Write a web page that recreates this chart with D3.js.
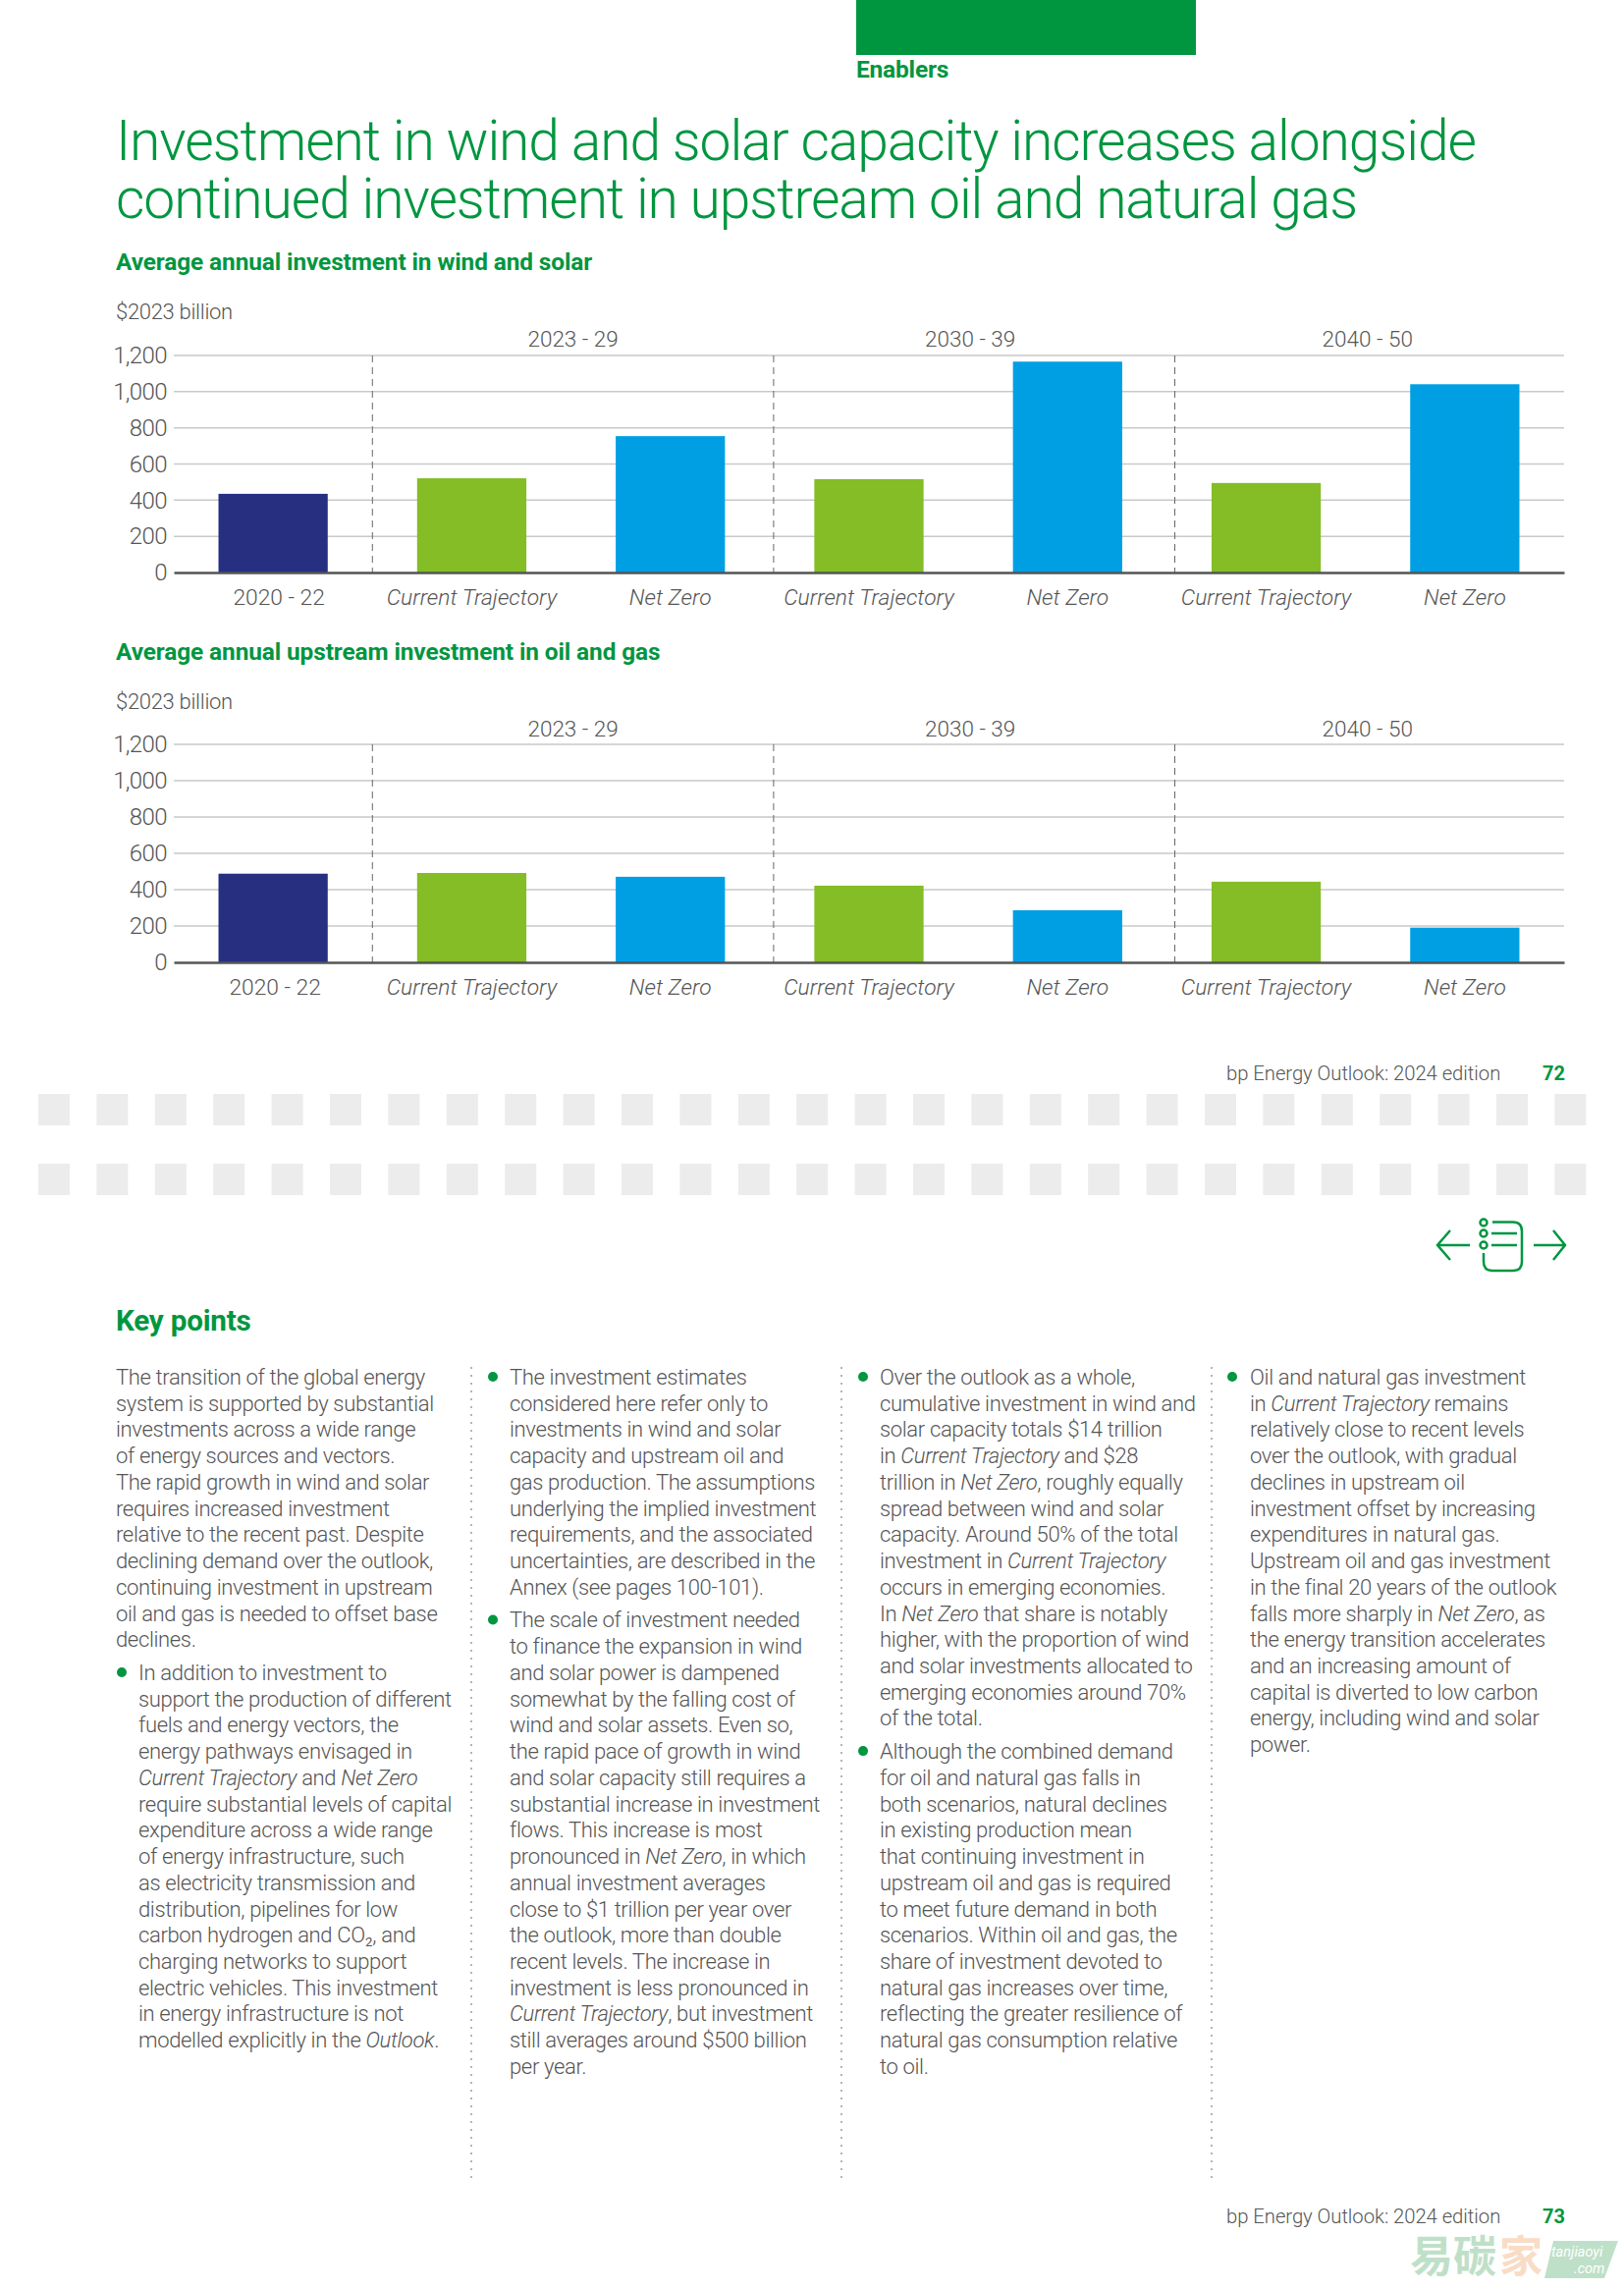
<!DOCTYPE html>
<html><head><meta charset="utf-8"><script src="https://cdn.jsdelivr.net/npm/d3@7"></script>
<style>html,body{margin:0;padding:0;background:#fff}svg{display:block}text{font-family:Roboto,sans-serif}</style></head>
<body><svg id="page" width="1654" height="2331"></svg>
<script>
const categories=["2020 - 22","Current Trajectory","Net Zero","Current Trajectory","Net Zero","Current Trajectory","Net Zero"];
const barKinds=["past","ct","nz","ct","nz","ct","nz"];
const windSolar=[435,521,754,516,1166,495,1041];
const upstream=[488,492,471,422,287,444,191];
const yTicks=[0,200,400,600,800,1000,1200];
const groupLabels=["2023 - 29","2030 - 39","2040 - 50"];
const groupCentres=[2,4,6];
const dividerAt=[1,3.02,5.04];
const titleLines=["Investment in wind and solar capacity increases alongside","continued investment in upstream oil and natural gas"];
const col1=[
{b:0,l:["The transition of the global energy","system is supported by substantial","investments across a wide range","of energy sources and vectors.","The rapid growth in wind and solar","requires increased investment","relative to the recent past. Despite","declining demand over the outlook,","continuing investment in upstream","oil and gas is needed to offset base","declines."]},
{b:1,l:["In addition to investment to","support the production of different","fuels and energy vectors, the","energy pathways envisaged in","*Current Trajectory* and *Net Zero*","require substantial levels of capital","expenditure across a wide range","of energy infrastructure, such","as electricity transmission and","distribution, pipelines for low","carbon hydrogen and CO₂, and","charging networks to support","electric vehicles. This investment","in energy infrastructure is not","modelled explicitly in the *Outlook*."]}];
const col2=[
{b:1,l:["The investment estimates","considered here refer only to","investments in wind and solar","capacity and upstream oil and","gas production. The assumptions","underlying the implied investment","requirements, and the associated","uncertainties, are described in the","Annex (see pages 100-101)."]},
{b:1,l:["The scale of investment needed","to finance the expansion in wind","and solar power is dampened","somewhat by the falling cost of","wind and solar assets. Even so,","the rapid pace of growth in wind","and solar capacity still requires a","substantial increase in investment","flows. This increase is most","pronounced in *Net Zero*, in which","annual investment averages","close to $1 trillion per year over","the outlook, more than double","recent levels. The increase in","investment is less pronounced in","*Current Trajectory*, but investment","still averages around $500 billion","per year."]}];
const col3=[
{b:1,l:["Over the outlook as a whole,","cumulative investment in wind and","solar capacity totals $14 trillion","in *Current Trajectory* and $28","trillion in *Net Zero*, roughly equally","spread between wind and solar","capacity. Around 50% of the total","investment in *Current Trajectory*","occurs in emerging economies.","In *Net Zero* that share is notably","higher, with the proportion of wind","and solar investments allocated to","emerging economies around 70%","of the total."]},
{b:1,l:["Although the combined demand","for oil and natural gas falls in","both scenarios, natural declines","in existing production mean","that continuing investment in","upstream oil and gas is required","to meet future demand in both","scenarios. Within oil and gas, the","share of investment devoted to","natural gas increases over time,","reflecting the greater resilience of","natural gas consumption relative","to oil."]}];
const col4=[
{b:1,l:["Oil and natural gas investment","in *Current Trajectory* remains","relatively close to recent levels","over the outlook, with gradual","declines in upstream oil","investment offset by increasing","expenditures in natural gas.","Upstream oil and gas investment","in the final 20 years of the outlook","falls more sharply in *Net Zero*, as","the energy transition accelerates","and an increasing amount of","capital is diverted to low carbon","energy, including wind and solar","power."]}];

const GREEN="#009640",TXT="#555";
const svg=d3.select("#page");
const kindColor=d3.scaleOrdinal().domain(["past","ct","nz"]).range(["#262f80","#84bd26","#009fe3"]);
const t=(x,y,s,size,o={})=>svg.append("text").attr("x",x).attr("y",y).text(s).attr("font-size",size)
  .attr("font-weight",o.w||300).attr("fill",o.c||TXT).attr("text-anchor",o.a||"start").attr("letter-spacing",o.ls||0);

svg.append("rect").attr("x",872).attr("y",0).attr("width",346).attr("height",56).attr("fill",GREEN);
t(872,79,"Enablers",24.5,{w:700,c:GREEN,ls:-0.2});
titleLines.forEach((s,i)=>t(118,163+i*58.5,s,57,{c:GREEN,ls:-1.1}));

function chart(o){
  const idx=d3.range(o.values.length);
  const x=d3.scaleBand().domain(idx).range([177,1593]).paddingInner(0.45).paddingOuter(0.225);
  const u=d3.scaleLinear().domain([0,7]).range([177,1593]);
  const y=d3.scaleLinear().domain([0,1200]).range([o.y0,o.y1]);
  t(118,o.headY,o.head,24.4,{w:700,c:GREEN,ls:-0.1});
  t(118,o.unitY,"$2023 billion",22,{ls:-0.3});
  const g=svg.append("g");
  const ya=g.append("g").attr("transform","translate(177,0)")
    .call(d3.axisLeft(y).tickValues(yTicks).tickSize(0).tickPadding(7).tickFormat(d3.format(",")));
  ya.select(".domain").remove();
  ya.selectAll("text").attr("font-size",24).attr("font-weight",300).attr("fill",TXT).attr("font-family","Roboto,sans-serif").attr("letter-spacing",-0.6);
  g.append("g").selectAll("line").data(yTicks.filter(d=>d>0)).join("line")
    .attr("x1",177).attr("x2",1593).attr("y1",d=>y(d)).attr("y2",d=>y(d)).attr("stroke","#c9c9c9").attr("stroke-width",1.5);
  g.append("g").selectAll("line").data(dividerAt).join("line")
    .attr("x1",d=>u(d)).attr("x2",d=>u(d)).attr("y1",o.y1).attr("y2",o.y0).attr("stroke","#666").attr("stroke-width",1).attr("stroke-dasharray","7 5");
  g.append("g").selectAll("rect").data(o.values).join("rect")
    .attr("x",(d,i)=>x(i)).attr("width",x.bandwidth()).attr("y",d=>y(d)).attr("height",d=>o.y0-y(d)).attr("fill",(d,i)=>kindColor(barKinds[i]));
  const xa=g.append("g").attr("transform",`translate(0,${o.y0})`)
    .call(d3.axisBottom(x).tickSize(0).tickPadding(15).tickFormat(i=>categories[i]));
  xa.select(".domain").attr("stroke","#555").attr("stroke-width",2.5);
  xa.selectAll("text").attr("font-size",22.8).attr("font-weight",300).attr("fill",TXT).attr("font-family","Roboto,sans-serif")
    .attr("font-style",(i)=>i===0?"normal":"italic").attr("y",o.labelY-o.y0).attr("dy",0)
    .attr("dx",i=>i===0?o.firstDx:0);
  g.append("g").selectAll("text").data(groupLabels).join("text")
    .attr("x",(d,i)=>u(groupCentres[i])+2).attr("y",o.groupY).attr("text-anchor","middle").attr("font-size",22.5).attr("font-weight",300).attr("fill",TXT).text(d=>d);
}
chart({values:windSolar,y0:583,y1:362,head:"Average annual investment in wind and solar",headY:275,unitY:325,groupY:353,labelY:616,firstDx:6});
chart({values:upstream,y0:980,y1:758,head:"Average annual upstream investment in oil and gas",headY:672,unitY:722,groupY:750,labelY:1013,firstDx:2});

t(1249,1100,"bp Energy Outlook: 2024 edition",20.3,{ls:-0.05});
t(1594,1100,"72",20,{w:700,c:GREEN,a:"end"});
t(1249,2264,"bp Energy Outlook: 2024 edition",20.3,{ls:-0.05});
t(1594,2264,"73",20,{w:700,c:GREEN,a:"end"});

[1114,1185].forEach(yy=>svg.append("g").selectAll("rect").data(d3.range(27)).join("rect")
  .attr("x",i=>39+i*59.4).attr("y",yy).attr("width",32).attr("height",32).attr("fill","#ececec"));

const ic=svg.append("g").attr("fill","none").attr("stroke",GREEN).attr("stroke-width",2.5);
["M1497 1268H1464M1477 1253L1464 1268L1477 1283","M1562 1268H1594M1582 1253L1594 1268L1582 1283",
 "M1520 1244.5H1541Q1550 1244.5 1550 1254V1285Q1550 1294 1541 1294H1520Q1511 1294 1511 1285V1276",
 "M1519 1256H1545M1519 1268H1545"].forEach(d=>ic.append("path").attr("d",d));
[1245,1256,1268].forEach(cy=>ic.append("circle").attr("cx",1511).attr("cy",cy).attr("r",3.5));

t(118,1355,"Key points",29.6,{w:700,c:GREEN,ls:-0.2});
const BODY=22,LS=-0.35,LH=26.73,GAP=6.9;
function rich(x,y,s){
  const el=svg.append("text").attr("x",x).attr("y",y).attr("font-size",BODY).attr("font-weight",300).attr("fill",TXT).attr("letter-spacing",LS);
  s.split("*").forEach((p,i)=>{if(p)el.append("tspan").attr("font-style",i%2?"italic":"normal").text(p);});
}
function column(paras,xText,xBullet){
  let y=1410;
  paras.forEach(p=>{
    if(p.b)svg.append("circle").attr("cx",xBullet).attr("cy",y-8).attr("r",5).attr("fill",GREEN);
    const x=p.b?xText:xBullet-6;
    p.l.forEach(s=>{rich(x,y,s);y+=LH;});
    y+=GAP;
  });
}
column(col1,141,124);
column(col2,519,502);
column(col3,896,879);
column(col4,1273,1255);
[480,857,1234].forEach(x=>svg.append("line").attr("x1",x).attr("x2",x).attr("y1",1392).attr("y2",2218)
  .attr("stroke","#b5b5b5").attr("stroke-width",2).attr("stroke-dasharray","2 6"));

const wm=svg.append("g");
wm.append("text").attr("x",1436).attr("y",2314).attr("font-size",44).attr("font-weight",700).style("font-family","'Noto Sans CJK SC'").attr("fill","#bfe0c8").text("易碳");
wm.append("text").attr("x",1527).attr("y",2314).attr("font-size",44).attr("font-weight",700).style("font-family","'Noto Sans CJK SC'").attr("fill","#f9dcc6").text("家");
wm.append("path").attr("d","M1582 2282H1648L1634 2320H1573Z").attr("fill","#bfe0c8");
wm.append("text").attr("x",1580).attr("y",2298).attr("font-size",14.5).attr("font-style","italic").attr("fill","#fff").text("tanjiaoyi");
wm.append("text").attr("x",1603).attr("y",2315).attr("font-size",14.5).attr("font-style","italic").attr("fill","#fff").text(".com");
</script></body></html>
